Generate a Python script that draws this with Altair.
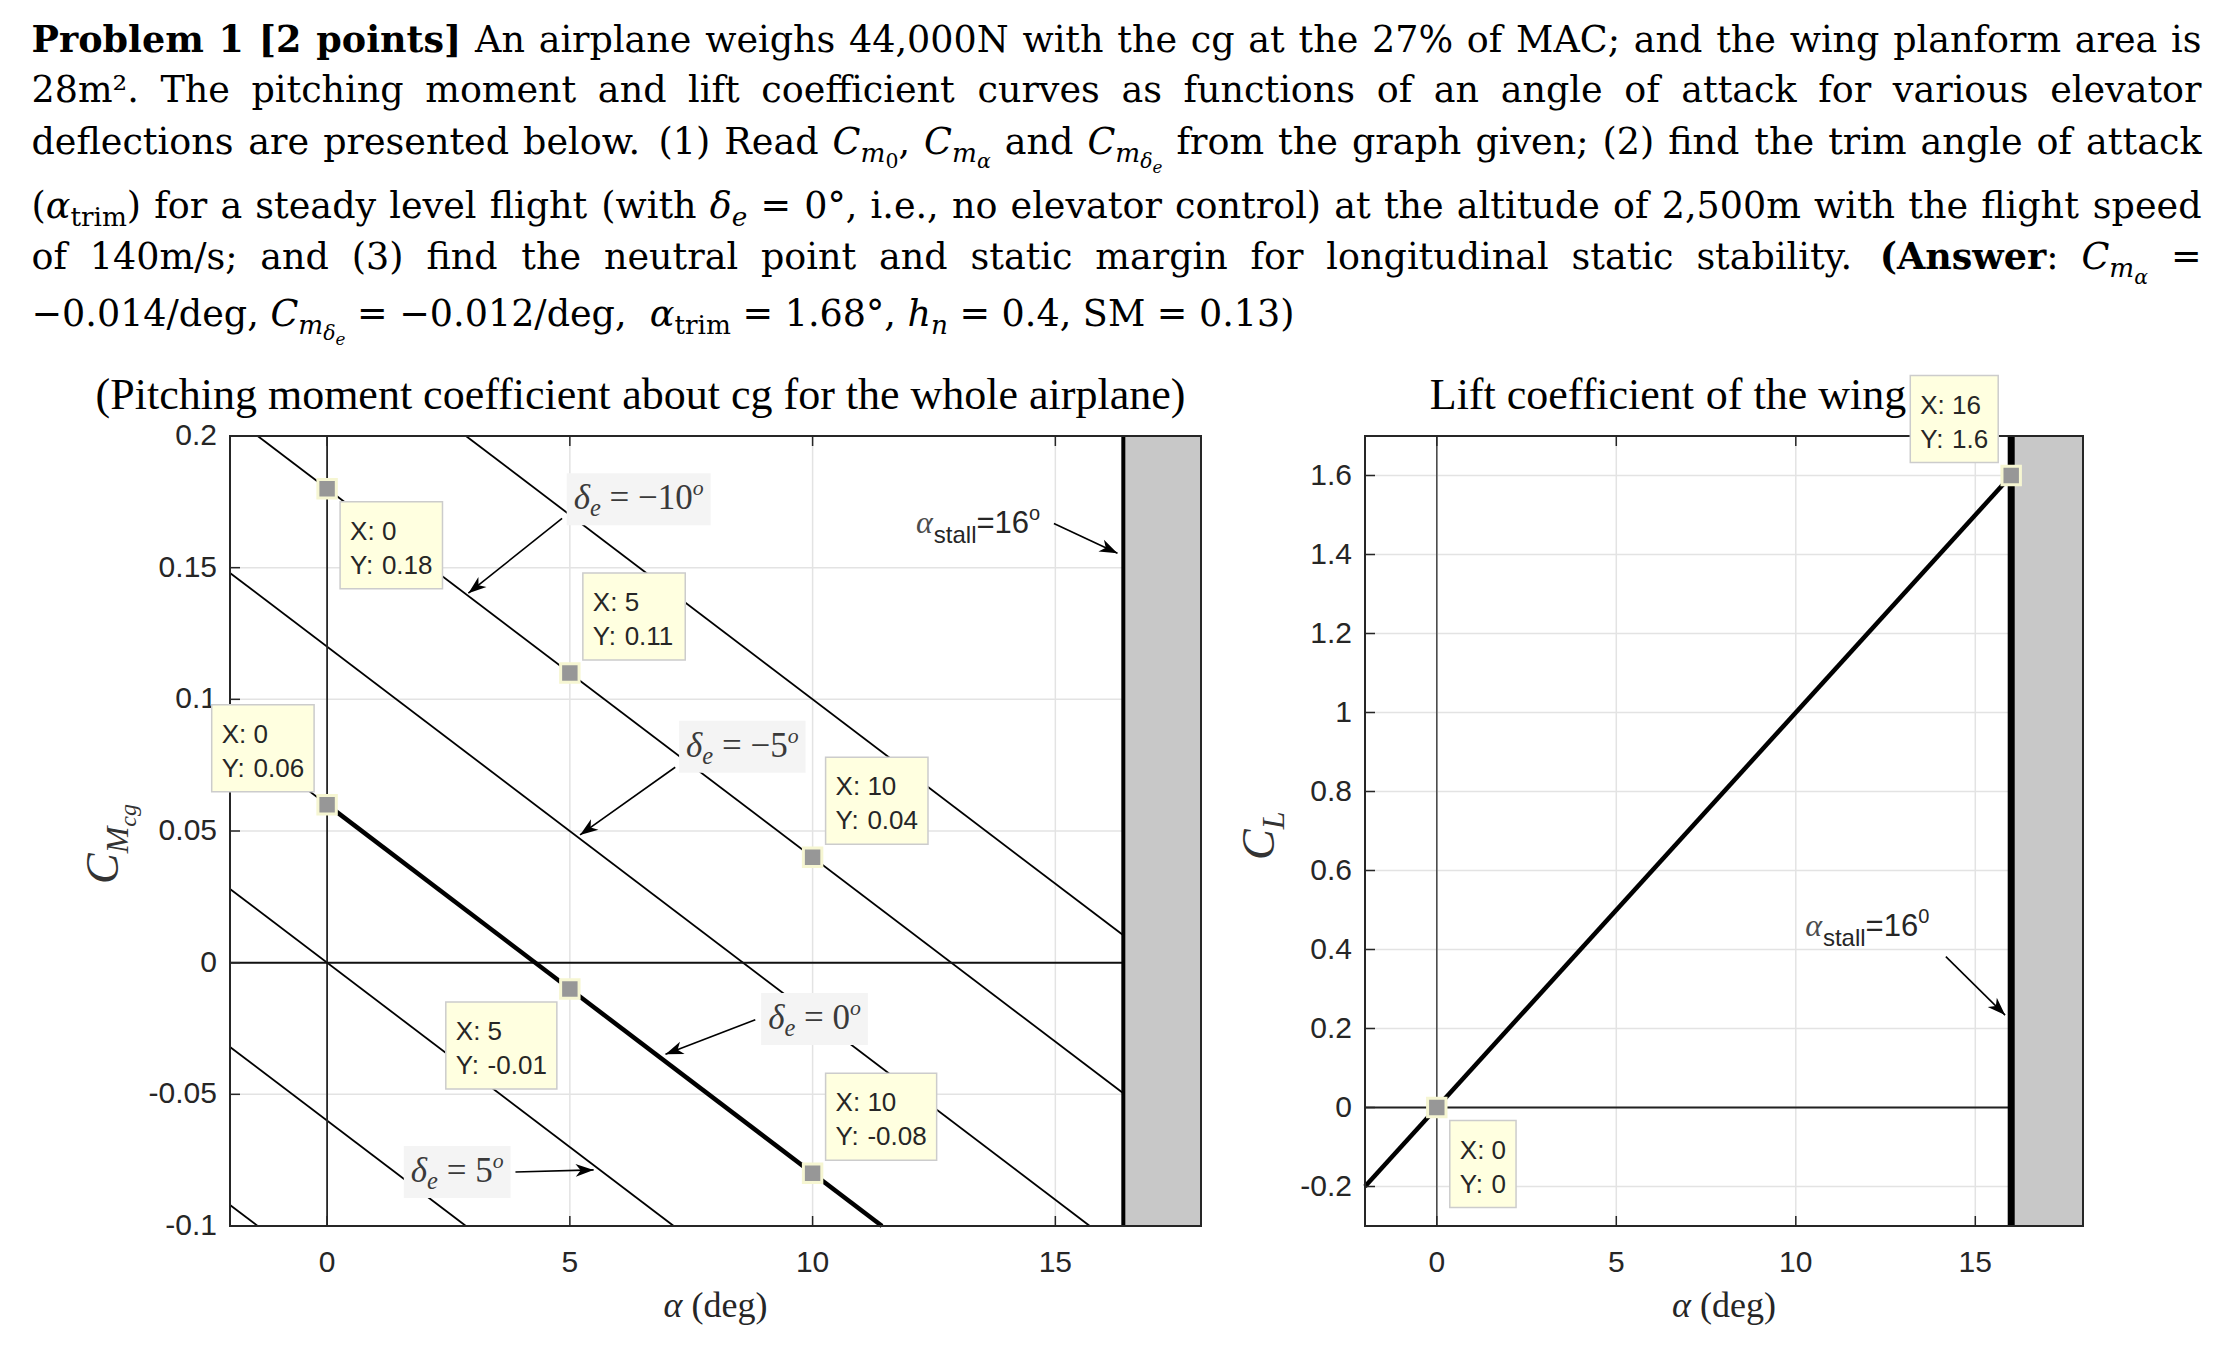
import os, re, glob, struct, math
import altair as alt
import pandas as pd

# ================= values =================
# Cm_cg vs alpha lines, one per elevator deflection (drawn end points)
de_deg = [-15, -10, -5, 0, 5, 10, 15]
de_a_start = [2.86, -1.43, -2.0, -2.0, -2.0, -2.0, -2.0]
de_cm_start = [0.200, 0.200, 0.148, 0.088, 0.028, -0.032, -0.092]
de_a_end = [16.4, 16.4, 15.71, 11.43, 7.14, 2.86, -1.43]
de_cm_end = [0.0104, -0.0496, -0.100, -0.100, -0.100, -0.100, -0.100]
trim_a = [0.0, 11.43]            # highlighted part of the delta_e = 0 line
trim_cm = [0.06, -0.10]
cm_tip_a = [0, 5, 0, 5, 10, 10]
cm_tip_cm = [0.18, 0.11, 0.06, -0.01, 0.04, -0.08]
cm_tip_tx = ["X: 0", "X: 5", "X: 0", "X: 5", "X: 10", "X: 10"]
cm_tip_ty = ["Y: 0.18", "Y: 0.11", "Y: 0.06", "Y: -0.01", "Y: 0.04", "Y: -0.08"]
cm_stall_from = 16.4
# lift curve of the wing
cl_a = [-2.0, 16.0]
cl_v = [-0.2, 1.6]
cl_tip_a = [16, 0]
cl_tip_v = [1.6, 0]
cl_tip_tx = ["X: 16", "X: 0"]
cl_tip_ty = ["Y: 1.6", "Y: 0"]
cl_stall = 16.0
# axes
alpha_dom = [-2, 18]
cm_dom = [-0.1, 0.2]
cl_dom = [-0.3, 1.7]
x_ticks = [0, 5, 10, 15]
x_tick_labels = ["0", "5", "10", "15"]
cm_ticks = [-0.1, -0.05, 0, 0.05, 0.1, 0.15, 0.2]
cm_tick_labels = ["-0.1", "-0.05", "0", "0.05", "0.1", "0.15", "0.2"]
cl_ticks = [-0.2, 0, 0.2, 0.4, 0.6, 0.8, 1.0, 1.2, 1.4, 1.6]
cl_tick_labels = ["-0.2", "0", "0.2", "0.4", "0.6", "0.8", "1", "1.2", "1.4", "1.6"]
# annotations (anchors in data units)
de_lab_val = ["\u221210", "\u22125", "0", "5"]
de_lab_a = [4.935, 7.25, 8.94, 1.58]
de_lab_cm = [0.176, 0.082, -0.0214, -0.0795]
cm_arr_a0 = [4.84, 7.17, 8.82, 3.88, 14.97]
cm_arr_c0 = [0.1687, 0.0742, -0.0217, -0.0795, 0.1668]
cm_arr_a1 = [2.91, 5.21, 6.97, 5.49, 16.28]
cm_arr_c1 = [0.1403, 0.0485, -0.0348, -0.0787, 0.1555]
cl_arr_a0 = [14.18]
cl_arr_c0 = [0.382]
cl_arr_a1 = [15.83]
cl_arr_c1 = [0.234]
stall_lab_cm = (12.13, 0.163)
stall_lab_cl = (10.26, 0.434)

# ================= layout =================
W, H = 2214, 1340
LXR = (222.0, 1193.0)
RXR = (1357.0, 2075.0)
YR = (1218.0, 428.0)


def lpx(a):
    return LXR[0] + (a - alpha_dom[0]) / (alpha_dom[1] - alpha_dom[0]) * (LXR[1] - LXR[0])


def rpx(a):
    return RXR[0] + (a - alpha_dom[0]) / (alpha_dom[1] - alpha_dom[0]) * (RXR[1] - RXR[0])


def lpy(c):
    return YR[0] + (c - cm_dom[0]) / (cm_dom[1] - cm_dom[0]) * (YR[1] - YR[0])


def rpy(c):
    return YR[0] + (c - cl_dom[0]) / (cl_dom[1] - cl_dom[0]) * (YR[1] - YR[0])


# ---------- font metrics (read from installed fonts, with fallback) ----------
def _ttf_widths(path):
    with open(path, 'rb') as fh:
        data = fh.read()
    num = struct.unpack('>H', data[4:6])[0]
    tabs = {}
    for i in range(num):
        tag, _cs, off, _ln = struct.unpack('>4sIII', data[12 + 16 * i: 28 + 16 * i])
        tabs[tag] = off
    head = tabs[b'head']
    upem = struct.unpack('>H', data[head + 18: head + 20])[0]
    hhea = tabs[b'hhea']
    nhm = struct.unpack('>H', data[hhea + 34: hhea + 36])[0]
    hm = tabs[b'hmtx']
    adv = [struct.unpack('>H', data[hm + 4 * i: hm + 4 * i + 2])[0] for i in range(nhm)]
    cm = tabs[b'cmap']
    nsub = struct.unpack('>H', data[cm + 2: cm + 4])[0]
    best = None
    for i in range(nsub):
        pid, eid, off = struct.unpack('>HHI', data[cm + 4 + 8 * i: cm + 12 + 8 * i])
        fmt = struct.unpack('>H', data[cm + off: cm + off + 2])[0]
        if fmt == 4 and ((pid == 3 and eid == 1) or pid == 0):
            best = cm + off
            if pid == 3:
                break
    sub = best
    segx2 = struct.unpack('>H', data[sub + 6: sub + 8])[0]
    n = segx2 // 2
    ends = struct.unpack('>%dH' % n, data[sub + 14: sub + 14 + segx2])
    p = sub + 16 + segx2
    starts = struct.unpack('>%dH' % n, data[p: p + segx2])
    p += segx2
    deltas = struct.unpack('>%dh' % n, data[p: p + segx2])
    p += segx2
    rbase = p
    roffs = struct.unpack('>%dH' % n, data[p: p + segx2])
    cache = {}

    def width(ch):
        if ch in cache:
            return cache[ch]
        c = ord(ch)
        g = 0
        for i in range(n):
            if ends[i] >= c:
                if starts[i] <= c:
                    if roffs[i] == 0:
                        g = (c + deltas[i]) & 0xFFFF
                    else:
                        a = rbase + 2 * i + roffs[i] + 2 * (c - starts[i])
                        g = struct.unpack('>H', data[a:a + 2])[0]
                        if g:
                            g = (g + deltas[i]) & 0xFFFF
                break
        w = adv[g] if g < nhm else adv[-1]
        cache[ch] = w / upem
        return cache[ch]
    return width


def _find(names):
    roots = ['/usr/share/fonts', '/usr/local/share/fonts', os.path.expanduser('~/.fonts'),
             os.path.expanduser('~/.local/share/fonts')]
    for nm in names:
        for r in roots:
            hits = glob.glob(os.path.join(r, '**', nm), recursive=True)
            for h in hits:
                try:
                    return _ttf_widths(h)
                except Exception:
                    pass
    return None


def _fallback(space, other):
    return lambda ch: space if ch == ' ' else other


M = {
    'hn': _find(['DejaVuSerif.ttf']) or _fallback(0.318, 0.58),
    'hb': _find(['DejaVuSerif-Bold.ttf']) or _fallback(0.348, 0.64),
    'tn': _find(['LiberationSerif-Regular.ttf']) or _fallback(0.25, 0.47),
    'ti': _find(['LiberationSerif-Italic.ttf']) or _fallback(0.25, 0.47),
    'sn': _find(['LiberationSans-Regular.ttf']) or _fallback(0.278, 0.53),
}
M['hi'] = _find(['DejaVuSerif-Italic.ttf']) or M['hn']

FONT = {
    'hn': ('DejaVu Serif', 'normal', 'normal'),
    'hb': ('DejaVu Serif', 'bold', 'normal'),
    'hi': ('DejaVu Serif', 'normal', 'italic'),
    'tn': ('Liberation Serif', 'normal', 'normal'),
    'ti': ('Liberation Serif', 'normal', 'italic'),
    'sn': ('Liberation Sans', 'normal', 'normal'),
}


def tw(text, st, sz):
    return sum(M[st](ch) for ch in text) * sz


def lay(runs, x0, y0, col, extra=0.0, rot=False):
    rows = []
    adv = 0.0
    for t, st, sz, dy in runs:
        for tok in re.split(r'( )', t):
            if not tok:
                continue
            w = tw(tok, st, sz)
            if tok == ' ':
                adv += w + extra
                continue
            if rot:
                rows.append(dict(t=tok, x=x0 + dy, y=y0 - adv, s=sz, st=st, col=col))
            else:
                rows.append(dict(t=tok, x=x0 + adv, y=y0 + dy, s=sz, st=st, col=col))
            adv += w
    return rows, adv


def runs_width(runs):
    return sum(tw(t, st, sz) for t, st, sz, dy in runs)


TEXT = []
ROT = []

# ---------- header paragraph ----------
HEAD = [
    [("Problem 1 [2 points]", 'hb', 0), (" An airplane weighs 44,000N with the cg at the 27% of MAC; and the wing planform area is", 'hn', 0)],
    [("28m\u00b2. The pitching moment and lift coefficient curves as functions of an angle of attack for various elevator", 'hn', 0)],
    [("deflections are presented below. (1) Read ", 'hn', 0), ("C", 'hi', 0), ("m", 'hi', 1), ("0", 'hn', 2), (", ", 'hn', 0),
     ("C", 'hi', 0), ("m", 'hi', 1), ("\u03b1", 'hi', 2), (" and ", 'hn', 0), ("C", 'hi', 0), ("m", 'hi', 1), ("\u03b4", 'hi', 2),
     ("e", 'hi', 3), (" from the graph given; (2) find the trim angle of attack", 'hn', 0)],
    [("(", 'hn', 0), ("\u03b1", 'hi', 0), ("trim", 'hn', 1), (") for a steady level flight (with ", 'hn', 0), ("\u03b4", 'hi', 0),
     ("e", 'hi', 1), (" = 0\u00b0, i.e., no elevator control) at the altitude of 2,500m with the flight speed", 'hn', 0)],
    [("of 140m/s; and (3) find the neutral point and static margin for longitudinal static stability. ", 'hn', 0),
     ("(Answer", 'hb', 0), (": ", 'hn', 0), ("C", 'hi', 0), ("m", 'hi', 1), ("\u03b1", 'hi', 2), (" =", 'hn', 0)],
    [("\u22120.014/deg, ", 'hn', 0), ("C", 'hi', 0), ("m", 'hi', 1), ("\u03b4", 'hi', 2), ("e", 'hi', 3),
     (" = \u22120.012/deg,  ", 'hn', 0), ("\u03b1", 'hi', 0), ("trim", 'hn', 1), (" = 1.68\u00b0, ", 'hn', 0),
     ("h", 'hi', 0), ("n", 'hi', 1), (" = 0.4, SM = 0.13)", 'hn', 0)],
]
LV_SIZE = {0: 1.0, 1: 0.72, 2: 0.56, 3: 0.46}
LV_DY = {0: 0.0, 1: 0.22, 2: 0.40, 3: 0.53}
HEAD_X0 = 23.5
HEAD_W = 2170.0
HEAD_BASE = [43.7, 93.7, 145.5, 210.3, 261.3, 317.5]


def head_runs(line, F):
    return [(t, st, F * LV_SIZE[lv], F * LV_DY[lv]) for t, st, lv in line]


max_em = max(runs_width(head_runs(l, 1.0)) for l in HEAD[:5])
F_HEAD = min(36.5, 0.995 * HEAD_W / max_em)
for i, line in enumerate(HEAD):
    rr = head_runs(line, F_HEAD)
    extra = 0.0
    if i < 5:
        nsp = sum(t.count(' ') for t, st, sz, dy in rr)
        extra = (HEAD_W - runs_width(rr)) / max(nsp, 1)
    rows, _ = lay(rr, HEAD_X0, HEAD_BASE[i], '#000000', extra)
    TEXT += rows

# ---------- panel titles and axis labels ----------
for txt, cx in [("(Pitching moment coefficient about cg for the whole airplane)", (LXR[0] + LXR[1]) / 2 - 75),
                ("Lift coefficient of the wing", (RXR[0] + RXR[1]) / 2 - 56)]:
    rr = [(txt, 'tn', 44, 0)]
    rows, _ = lay(rr, cx - runs_width(rr) / 2, 401, '#000000')
    TEXT += rows
for cx in [(LXR[0] + LXR[1]) / 2, (RXR[0] + RXR[1]) / 2]:
    rr = [("\u03b1", 'ti', 36, 0), (" (deg)", 'tn', 36, 0)]
    rows, _ = lay(rr, cx - runs_width(rr) / 2, 1309, '#262626')
    TEXT += rows
rows, _ = lay([("C", 'ti', 46, 0), ("M", 'ti', 32, 10), ("cg", 'ti', 24, 18)], 110, 876, '#333333', rot=True)
ROT += rows
rows, _ = lay([("C", 'ti', 46, 0), ("L", 'ti', 32, 10)], 1266, 852, '#333333', rot=True)
ROT += rows

# ---------- data tips ----------
TIP_F = 26
TIP_H = 87
TIP_GAP = 13
tip_boxes = []


def add_tip(px, py, qx, qy, l1, l2):
    w = max(tw(l1, 'sn', TIP_F), tw(l2, 'sn', TIP_F)) + 20
    x0 = px + TIP_GAP if qx > 0 else px - TIP_GAP - w
    y0 = py + TIP_GAP if qy > 0 else py - TIP_GAP - TIP_H
    tip_boxes.append(dict(x=x0, x2=x0 + w, y=y0, y2=y0 + TIP_H))
    for txt, yy in [(l1, y0 + 38), (l2, y0 + 72)]:
        r, _ = lay([(txt, 'sn', TIP_F, 0)], x0 + 10, yy, '#262626')
        TEXT.extend(r)


cm_quads = [(1, 1), (1, -1), (-1, -1), (-1, 1), (1, -1), (1, -1)]
for a, c, q, l1, l2 in zip(cm_tip_a, cm_tip_cm, cm_quads, cm_tip_tx, cm_tip_ty):
    add_tip(lpx(a), lpy(c), q[0], q[1], l1, l2)
cl_quads = [(-1, -1), (1, 1)]
for a, c, q, l1, l2 in zip(cl_tip_a, cl_tip_v, cl_quads, cl_tip_tx, cl_tip_ty):
    add_tip(rpx(a), rpy(c), q[0], q[1], l1, l2)

# ---------- delta_e labels ----------
lab_boxes = []
LAB_F = 35
for val, a, c in zip(de_lab_val, de_lab_a, de_lab_cm):
    rr = [("\u03b4", 'ti', LAB_F, 0), ("e", 'ti', LAB_F * 0.7, 7), (" = " + val, 'tn', LAB_F, 0), ("o", 'ti', LAB_F * 0.62, -14)]
    w = runs_width(rr) + 14
    x0, yc = lpx(a), lpy(c)
    lab_boxes.append(dict(x=x0, x2=x0 + w, y=yc - 26, y2=yc + 26))
    rows, _ = lay(rr, x0 + 7, yc + 10, '#3a3a3a')
    TEXT += rows

# ---------- alpha_stall labels ----------
for (a, c), mapx, mapy, sup in [(stall_lab_cm, lpx, lpy, "o"), (stall_lab_cl, rpx, rpy, "0")]:
    rr = [("\u03b1", 'ti', 32, 0)]
    rows, w1 = lay(rr, mapx(a), mapy(c), '#4d4d4d')
    TEXT += rows
    rr2 = [("stall", 'sn', 24, 10), ("=16", 'sn', 31, 0), (sup, 'sn', 20, -13)]
    rows, _ = lay(rr2, mapx(a) + w1 + 1, mapy(c), '#262626')
    TEXT += rows

# ================= chart =================
SXL = alt.Scale(domain=alpha_dom, range=list(LXR), nice=False, zero=False)
SYL = alt.Scale(domain=cm_dom, range=list(YR), nice=False, zero=False)
SXR = alt.Scale(domain=alpha_dom, range=list(RXR), nice=False, zero=False)
SYR = alt.Scale(domain=cl_dom, range=list(YR), nice=False, zero=False)


def ex(f, s):
    return alt.X(f, type='quantitative', scale=s, axis=None)


def ey(f, s):
    return alt.Y(f, type='quantitative', scale=s, axis=None)


def pxe(f):
    return alt.X(f, type='quantitative', scale=None, axis=None)


def pye(f):
    return alt.Y(f, type='quantitative', scale=None, axis=None)


GRID = '#e3e3e3'
AX = '#262626'
ARROW = "M0,0L0.36,1L0,0.72L-0.36,1Z"
one = pd.DataFrame({'k': [0]})


def arrow_df(a0, c0, a1, c1, mx, my):
    ang = []
    for p, q, r, s in zip(a0, c0, a1, c1):
        dx = mx(r) - mx(p)
        dy = my(s) - my(q)
        ang.append(math.degrees(math.atan2(dx, -dy)) % 360)
    return pd.DataFrame({'a0': a0, 'c0': c0, 'a1': a1, 'c1': c1, 'ang': ang})


def panel(SX, SY, XR, yticks, ylabels):
    lay_ = []
    xt = pd.DataFrame({'v': x_ticks, 'lab': x_tick_labels})
    yt = pd.DataFrame({'v': yticks, 'lab': ylabels})
    lay_.append(alt.Chart(xt).mark_rule(color=GRID, strokeWidth=1.5).encode(
        x=ex('v', SX), y=alt.value(YR[1]), y2=alt.value(YR[0])))
    lay_.append(alt.Chart(yt).mark_rule(color=GRID, strokeWidth=1.5).encode(
        y=ey('v', SY), x=alt.value(XR[0]), x2=alt.value(XR[1])))
    return lay_, xt, yt


def ticks_and_labels(SX, SY, XR, xt, yt):
    out = []
    out.append(alt.Chart(xt).mark_rule(color=AX, strokeWidth=1.5).encode(
        x=ex('v', SX), y=alt.value(YR[0]), y2=alt.value(YR[0] - 10)))
    out.append(alt.Chart(xt).mark_rule(color=AX, strokeWidth=1.5).encode(
        x=ex('v', SX), y=alt.value(YR[1]), y2=alt.value(YR[1] + 10)))
    out.append(alt.Chart(yt).mark_rule(color=AX, strokeWidth=1.5).encode(
        y=ey('v', SY), x=alt.value(XR[0]), x2=alt.value(XR[0] + 10)))
    out.append(alt.Chart(xt).mark_text(font='Liberation Sans', fontSize=30, color=AX, align='center',
                                       baseline='middle').encode(
        x=ex('v', SX), y=alt.value(1255), text='lab:N'))
    out.append(alt.Chart(yt).mark_text(font='Liberation Sans', fontSize=30, color=AX, align='right',
                                       baseline='middle').encode(
        y=ey('v', SY), x=alt.value(XR[0] - 13), text='lab:N'))
    return out


# ----- left panel -----
Ll, xt, yt = panel(SXL, SYL, LXR, cm_ticks, cm_tick_labels)
de = pd.DataFrame({'d': de_deg, 'a0': de_a_start, 'c0': de_cm_start, 'a1': de_a_end, 'c1': de_cm_end})
Ll.append(alt.Chart(de).mark_rule(color='black', strokeWidth=1.8).encode(
    x=ex('a0', SXL), y=ey('c0', SYL), x2='a1', y2='c1'))
Ll.append(alt.Chart(pd.DataFrame({'a': [0]})).mark_rule(color=AX, strokeWidth=1.8).encode(
    x=ex('a', SXL), y=alt.value(YR[1]), y2=alt.value(YR[0])))
Ll.append(alt.Chart(pd.DataFrame({'c': [0], 'a0': [alpha_dom[0]], 'a1': [cm_stall_from]})).mark_rule(
    color='#111111', strokeWidth=2).encode(y=ey('c', SYL), x=ex('a0', SXL), x2='a1'))
Ll.append(alt.Chart(pd.DataFrame({'a0': [trim_a[0]], 'c0': [trim_cm[0]], 'a1': [trim_a[1]], 'c1': [trim_cm[1]]})).mark_rule(
    color='black', strokeWidth=4.5).encode(x=ex('a0', SXL), y=ey('c0', SYL), x2='a1', y2='c1'))
Ll.append(alt.Chart(pd.DataFrame({'a0': [cm_stall_from], 'a1': [alpha_dom[1]]})).mark_rect(
    fill='#c8c8c8', stroke='black', strokeWidth=2).encode(
    x=ex('a0', SXL), x2='a1', y=alt.value(YR[1]), y2=alt.value(YR[0])))
Ll.append(alt.Chart(pd.DataFrame({'a': [cm_stall_from]})).mark_rule(color='black', strokeWidth=4).encode(
    x=ex('a', SXL), y=alt.value(YR[1]), y2=alt.value(YR[0])))
Ll.append(alt.Chart(one).mark_rect(fillOpacity=0, stroke=AX, strokeWidth=2).encode(
    x=alt.value(LXR[0]), x2=alt.value(LXR[1]), y=alt.value(YR[1]), y2=alt.value(YR[0])))
Ll += ticks_and_labels(SXL, SYL, LXR, xt, yt)
arr_l = arrow_df(cm_arr_a0, cm_arr_c0, cm_arr_a1, cm_arr_c1, lpx, lpy)
Ll.append(alt.Chart(arr_l).mark_rule(color='black', strokeWidth=1.6).encode(
    x=ex('a0', SXL), y=ey('c0', SYL), x2='a1', y2='c1'))
Ll.append(alt.Chart(arr_l).mark_point(shape=ARROW, filled=True, color='black', size=1296, opacity=1, strokeWidth=0).encode(
    x=ex('a1', SXL), y=ey('c1', SYL), angle=alt.Angle('ang:Q', scale=None)))
Ll.append(alt.Chart(pd.DataFrame({'a': cm_tip_a, 'c': cm_tip_cm})).mark_point(
    shape='square', filled=True, fill='#979797', stroke='#f6f6d2', strokeWidth=3, size=340, opacity=1).encode(
    x=ex('a', SXL), y=ey('c', SYL)))
left = alt.layer(*Ll)

# ----- right panel -----
Rl, xt2, yt2 = panel(SXR, SYR, RXR, cl_ticks, cl_tick_labels)
Rl.append(alt.Chart(pd.DataFrame({'a': [0]})).mark_rule(color='#4d4d4d', strokeWidth=1.6).encode(
    x=ex('a', SXR), y=alt.value(YR[1]), y2=alt.value(YR[0])))
Rl.append(alt.Chart(pd.DataFrame({'c': [0], 'a0': [alpha_dom[0]], 'a1': [cl_stall]})).mark_rule(
    color='#222222', strokeWidth=2).encode(y=ey('c', SYR), x=ex('a0', SXR), x2='a1'))
Rl.append(alt.Chart(pd.DataFrame({'a': cl_a, 'v': cl_v})).mark_line(color='black', strokeWidth=4.5).encode(
    x=ex('a', SXR), y=ey('v', SYR)))
Rl.append(alt.Chart(pd.DataFrame({'a0': [cl_stall], 'a1': [alpha_dom[1]]})).mark_rect(
    fill='#c8c8c8', stroke='black', strokeWidth=2).encode(
    x=ex('a0', SXR), x2='a1', y=alt.value(YR[1]), y2=alt.value(YR[0])))
Rl.append(alt.Chart(pd.DataFrame({'a': [cl_stall]})).mark_rule(color='black', strokeWidth=7).encode(
    x=ex('a', SXR), y=alt.value(YR[1]), y2=alt.value(YR[0])))
Rl.append(alt.Chart(one).mark_rect(fillOpacity=0, stroke=AX, strokeWidth=2).encode(
    x=alt.value(RXR[0]), x2=alt.value(RXR[1]), y=alt.value(YR[1]), y2=alt.value(YR[0])))
Rl += ticks_and_labels(SXR, SYR, RXR, xt2, yt2)
arr_r = arrow_df(cl_arr_a0, cl_arr_c0, cl_arr_a1, cl_arr_c1, rpx, rpy)
Rl.append(alt.Chart(arr_r).mark_rule(color='black', strokeWidth=1.6).encode(
    x=ex('a0', SXR), y=ey('c0', SYR), x2='a1', y2='c1'))
Rl.append(alt.Chart(arr_r).mark_point(shape=ARROW, filled=True, color='black', size=1296, opacity=1, strokeWidth=0).encode(
    x=ex('a1', SXR), y=ey('c1', SYR), angle=alt.Angle('ang:Q', scale=None)))
Rl.append(alt.Chart(pd.DataFrame({'a': cl_tip_a, 'v': cl_tip_v})).mark_point(
    shape='square', filled=True, fill='#979797', stroke='#f6f6d2', strokeWidth=3, size=340, opacity=1).encode(
    x=ex('a', SXR), y=ey('v', SYR)))
right = alt.layer(*Rl)

# ----- annotation boxes and all text -----
ann = []
ann.append(alt.Chart(pd.DataFrame(lab_boxes)).mark_rect(fill='#f4f4f4').encode(
    x=pxe('x'), x2='x2', y=pye('y'), y2='y2'))
ann.append(alt.Chart(pd.DataFrame(tip_boxes)).mark_rect(fill='#ffffe0', stroke='#cccccc', strokeWidth=1.5).encode(
    x=pxe('x'), x2='x2', y=pye('y'), y2='y2'))

tdf = pd.DataFrame(TEXT)
for k, (fam, wt, sty) in FONT.items():
    sub = tdf[tdf.st == k]
    if len(sub) == 0:
        continue
    ann.append(alt.Chart(sub).mark_text(font=fam, fontWeight=wt, fontStyle=sty, align='left',
                                        baseline='alphabetic').encode(
        x=pxe('x'), y=pye('y'), text='t:N', size=alt.Size('s:Q', scale=None),
        color=alt.Color('col:N', scale=None)))
rdf = pd.DataFrame(ROT)
ann.append(alt.Chart(rdf).mark_text(font='Liberation Serif', fontStyle='italic', align='left',
                                    baseline='alphabetic', angle=270).encode(
    x=pxe('x'), y=pye('y'), text='t:N', size=alt.Size('s:Q', scale=None),
    color=alt.Color('col:N', scale=None)))

chart = alt.layer(left, right, *ann).resolve_scale(x='independent', y='independent').properties(
    width=W, height=H, autosize=alt.AutoSizeParams(type='none'), padding=0,
    background='white').configure_view(stroke=None)

chart.save("out.html", embed_options={"renderer": "svg", "actions": False})
